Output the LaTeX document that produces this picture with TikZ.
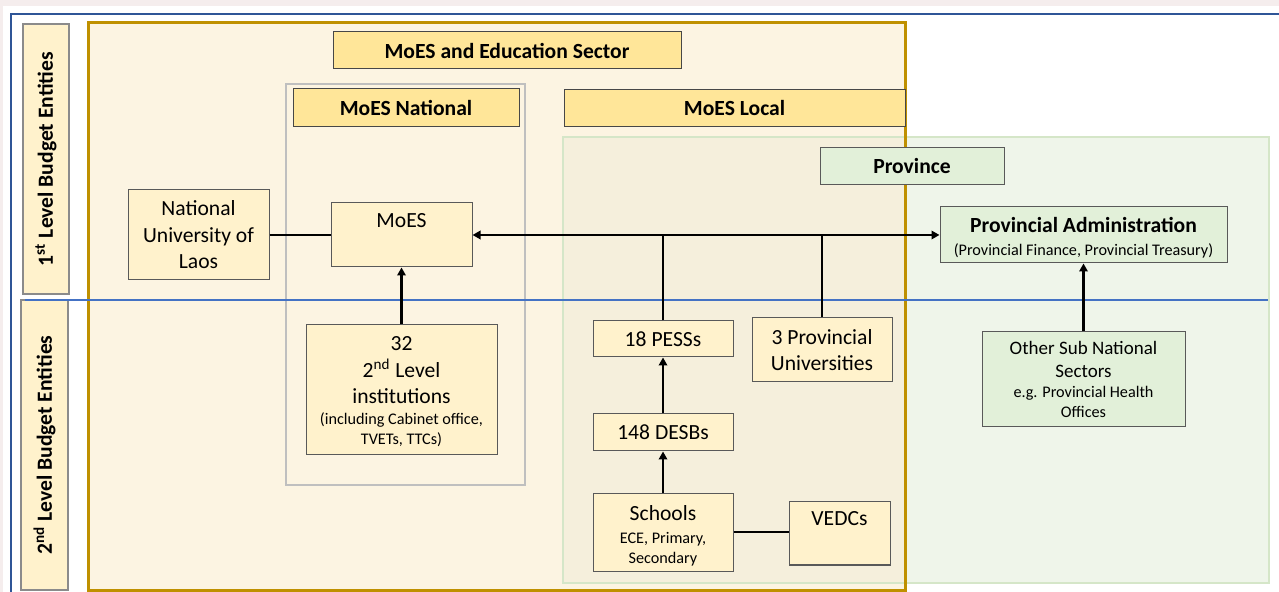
\documentclass[tikz,border=0pt]{standalone}
\usepackage{fontspec}
\setmainfont{Carlito}
\usetikzlibrary{arrows.meta}
\definecolor{boxfill}{HTML}{FFF2CC}
\definecolor{hdrfill}{HTML}{FFE699}
\definecolor{grnfill}{HTML}{E2F0D9}
\definecolor{goldline}{HTML}{BF9000}
\definecolor{goldbg}{HTML}{FCF4E2}
\definecolor{grnbg}{HTML}{EFF5EA}
\definecolor{mixbg}{HTML}{F5EFDC}
\definecolor{grnline}{HTML}{D5E6C8}
\definecolor{blueA}{HTML}{2F5597}
\definecolor{blueB}{HTML}{4472C4}
\definecolor{boxline}{HTML}{595959}
\definecolor{grpline}{HTML}{BFBFBF}
\definecolor{pinkbg}{HTML}{F5EDED}
\newcommand\fbig{\fontsize{10.8}{13.25}\selectfont}
\newcommand\fmid{\fontsize{9.5}{11.5}\selectfont}
\newcommand\fsmall{\fontsize{8.1}{10.3}\selectfont}
\tikzset{
  cbox/.style={draw=boxline, fill=boxfill, line width=0.5pt, inner sep=0pt, align=center, font=\fbig},
  hbox/.style={draw=boxline!80!black, fill=hdrfill, line width=0.5pt, inner sep=0pt, align=center, font=\fbig\bfseries},
  gbox/.style={draw=boxline, fill=grnfill, line width=0.5pt, inner sep=0pt, align=center, font=\fbig},
  sidebox/.style={draw=boxline!70, fill=boxfill, line width=0.6pt, inner sep=0pt, align=center, font=\fbig\bfseries, rotate=90},
  txt/.style={font=\fbig, inner sep=0pt, align=center},
  conn/.style={line width=1.25pt, draw=black},
  arr/.style={conn, -{Triangle[length=4pt,width=4.2pt]}},
  darr/.style={conn, {Triangle[length=4pt,width=4.2pt]}-{Triangle[length=4pt,width=4.2pt]}},
}
\begin{document}
\begin{tikzpicture}[x=0.5pt,y=-0.5pt]
\useasboundingbox (0,0) rectangle (1279,592);
% background strips
\fill[white] (0,0) rectangle (1279,592);
\fill[pinkbg] (0,0) rectangle (1279,6);
\fill[pinkbg] (0,0) rectangle (3,592);
% outer blue frame
\draw[blueA, line width=1.2pt] (1279,14) -- (11,14) -- (11,592);
% gold frame fill
\fill[goldbg] (88,23) rectangle (905,590);
% green province region
\fill[grnbg] (563,137) rectangle (1269,583);
\fill[mixbg] (563,137) rectangle (905,583);
\draw[grnline, line width=1pt] (563,137) rectangle (1269,583);
% gold frame border
\draw[goldline, line width=1.5pt] (88,23) rectangle (905,590);
% MoES National group
\draw[grpline, line width=0.6pt] (286,84) rectangle (525,485);

% side labels
\node[sidebox, minimum width=135pt, minimum height=23pt] (lab1) at (46,159) {1\textsuperscript{st} Level Budget Entities};
\node[sidebox, minimum width=145pt, minimum height=23.5pt] (lab2) at (44.5,445) {2\textsuperscript{nd} Level Budget Entities};

% level divider
\draw[blueB, line width=1.4pt] (25,300) -- (1268,300);

% headers
\node[hbox, minimum width=174pt, minimum height=18.5pt] (mes) at (507,50.5) {MoES and Education Sector};
\node[hbox, minimum width=113pt, minimum height=19pt] (natH) at (406,108) {MoES National};
\node[hbox, minimum width=170.5pt, minimum height=18.5pt] (locH) at (734.5,108.5) {MoES Local};
\node[gbox, font=\fbig\bfseries, minimum width=92pt, minimum height=18.5pt] (provH) at (912,166.5) {Province};

% boxes
\node[cbox, minimum width=70.5pt, minimum height=45pt] (nul) at (198.5,235) {National\\University of\\Laos};
\node[cbox, minimum width=70.5pt, minimum height=32pt] (moes) at (401.5,235) {};
\node[txt] (moesT) at (401.5,221) {MoES};
\node[cbox, minimum width=95.5pt, minimum height=65pt] (inst) at (401.5,390) {};
\node[txt] (instT) at (401.5,392)
  {32\\2\textsuperscript{nd} Level\\institutions\\[-3pt]\fsmall(including Cabinet office,\\[-3pt]\fsmall TVETs, TTCs)};
\node[gbox, minimum width=143.5pt, minimum height=28pt] (padm) at (1083.5,235) {};
\node[txt] (padmT) at (1083.5,237.5)
  {\textbf{Provincial Administration}\\[-2pt]\fsmall(Provincial Finance, Provincial Treasury)};
\node[cbox, minimum width=70pt, minimum height=18pt] (pess) at (663,339) {18 PESSs};
\node[cbox, minimum width=70pt, minimum height=32pt] (pu) at (822,350) {3 Provincial\\Universities};
\node[cbox, minimum width=70pt, minimum height=18.5pt] (desb) at (663,432.5) {148 DESBs};
\node[cbox, minimum width=70pt, minimum height=38.5pt] (sch) at (663,532.5) {};
\node[txt] (schT) at (663,535.5)
  {Schools\\[-1.5pt]\fsmall ECE, Primary,\\[-3.5pt]\fsmall Secondary};
\node[cbox, minimum width=50.5pt, minimum height=31.5pt] (vedc) at (839.5,533.5) {};
\node[txt] (vedcT) at (839.5,519) {VEDCs};
\node[gbox, minimum width=101.5pt, minimum height=47.5pt] (oth) at (1083.5,379.5)
  {\fmid Other Sub National\\[-1.5pt]\fmid Sectors\\[-3.5pt]\fsmall e.g. Provincial Health\\[-3pt]\fsmall Offices};

% connectors
\draw[conn] (nul.east) -- (moes.west);
\draw[darr] (moes.east) -- (padm.west);
\draw[conn] (pess.north) -- (pess.north |- padm.west);
\draw[conn] (pu.north) -- (pu.north |- padm.west);
\draw[arr] (inst.north) -- (moes.south);
\draw[arr] (desb.north) -- (pess.south);
\draw[arr] (sch.north) -- (desb.south);
\draw[conn, line width=1pt] (sch.east) -- (sch.east -| vedc.west);
\draw[arr] (oth.north) -- (padm.south);
\end{tikzpicture}
\end{document}
